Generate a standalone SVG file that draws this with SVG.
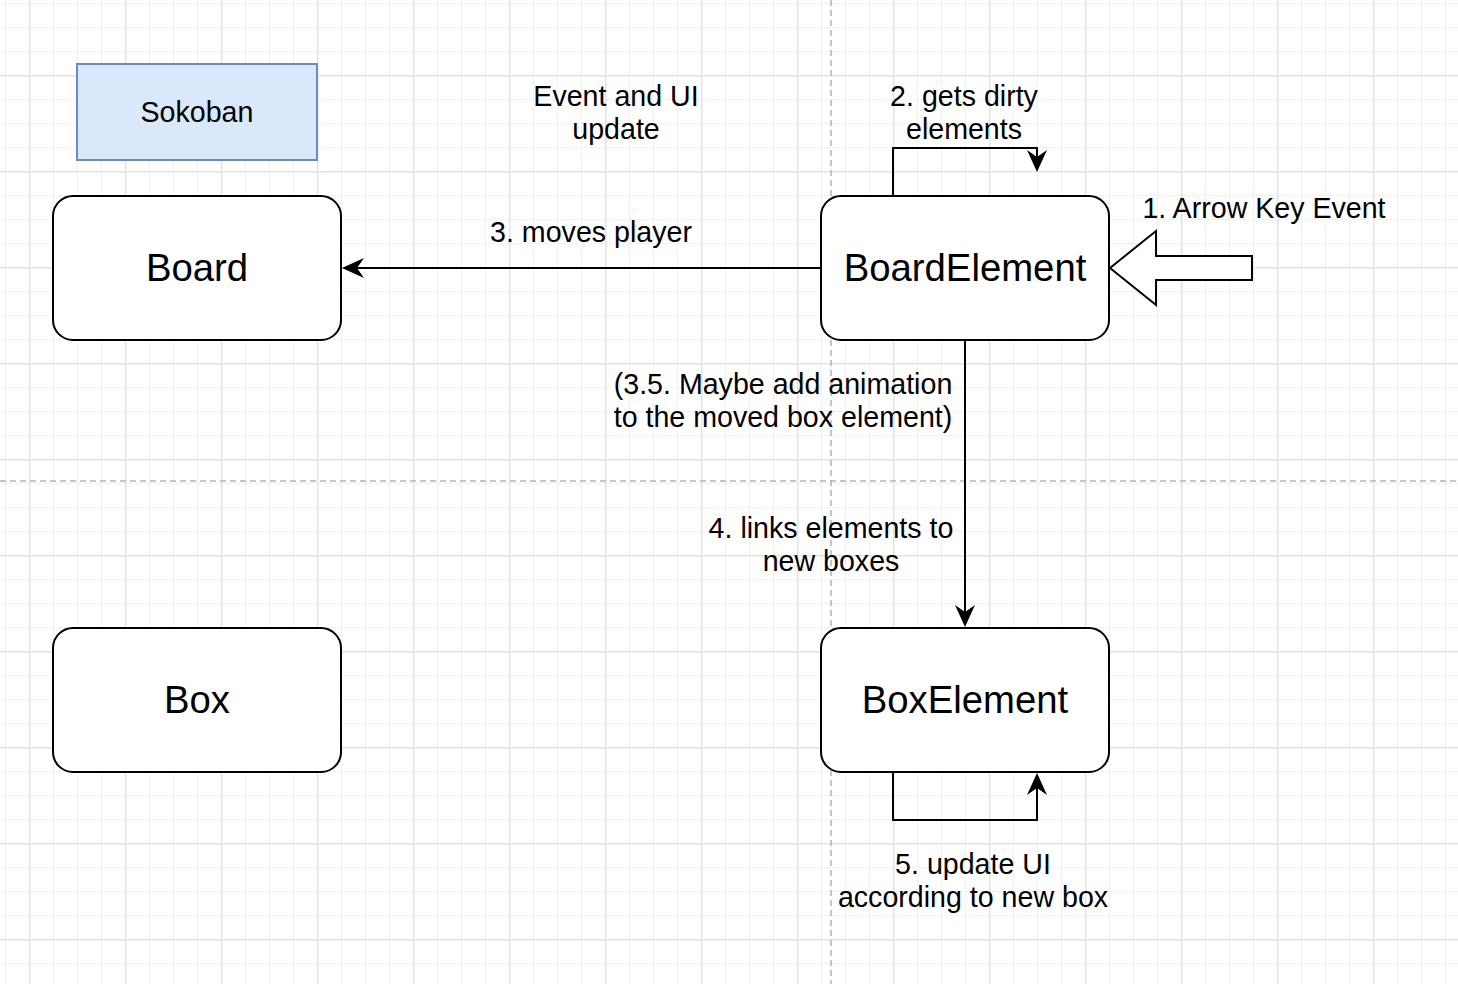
<svg xmlns="http://www.w3.org/2000/svg" width="1458" height="984" viewBox="0 0 1458 984">
  <style>
    text { font-family: "Liberation Sans", Arial, Helvetica, sans-serif; fill: #000; text-anchor: middle; }
    .lbl { font-size: 28.6px; }
    .big { font-size: 38.3px; }
    .node { fill: #fff; stroke: #000; stroke-width: 2; }
    .edge { fill: none; stroke: #000; stroke-width: 2; }
    .sep { stroke: #b3b3b3; stroke-width: 1.5; stroke-dasharray: 6 4; fill: none; }
  </style>
  <defs>
    <pattern id="grid" patternUnits="userSpaceOnUse" x="29" y="75" width="96" height="96">
      <rect x="0" y="0" width="96" height="96" fill="#fff"/>
      <g fill="#f2f2f2">
        <rect x="24" y="0" width="1" height="96"/>
        <rect x="48" y="0" width="1" height="96"/>
        <rect x="72" y="0" width="1" height="96"/>
        <rect x="0" y="24" width="96" height="1"/>
        <rect x="0" y="48" width="96" height="1"/>
        <rect x="0" y="72" width="96" height="1"/>
      </g>
      <g fill="#e3e3e3">
        <rect x="0" y="0" width="1.5" height="96"/>
        <rect x="0" y="0" width="96" height="1.5"/>
      </g>
    </pattern>
    <marker id="arr" markerUnits="userSpaceOnUse" markerWidth="22" markerHeight="20" viewBox="0 0 22 20" refX="7" refY="10" orient="auto">
      <path d="M0,0 L22,10 L0,20 L7,10 z" fill="#000"/>
    </marker>
  </defs>

  <rect x="0" y="0" width="1458" height="984" fill="url(#grid)"/>
  <line class="sep" x1="831" y1="0" x2="831" y2="984"/>
  <line class="sep" x1="0" y1="481" x2="1458" y2="481"/>

  <g id="sokoban">
    <rect x="77" y="64" width="240" height="96" fill="#dae8fc" stroke="#6c8ebf" stroke-width="2"/>
    <text class="lbl" x="197" y="122">Sokoban</text>
  </g>

  <g id="title-event">
    <text class="lbl" x="616" y="106">Event and UI</text>
    <text class="lbl" x="616" y="139">update</text>
  </g>

  <g id="board">
    <rect class="node" x="53" y="196" width="288" height="144" rx="20" ry="20"/>
    <text class="big" x="197" y="281">Board</text>
  </g>

  <g id="boardelement">
    <rect class="node" x="821" y="196" width="288" height="144" rx="20" ry="20"/>
    <text class="big" x="965" y="281">BoardElement</text>
  </g>

  <g id="box">
    <rect class="node" x="53" y="628" width="288" height="144" rx="20" ry="20"/>
    <text class="big" x="197" y="713">Box</text>
  </g>

  <g id="boxelement">
    <rect class="node" x="821" y="628" width="288" height="144" rx="20" ry="20"/>
    <text class="big" x="965" y="713">BoxElement</text>
  </g>

  <g id="key-event">
    <polygon points="1110,268 1156,231 1156,256 1252,256 1252,280 1156,280 1156,305" fill="#fff" stroke="#000" stroke-width="2" stroke-linejoin="miter"/>
    <text class="lbl" x="1264" y="218">1. Arrow Key Event</text>
  </g>

  <g id="connectors">
    <path class="edge" d="M893,196 V148 H1037 V157" marker-end="url(#arr)"/>
    <path class="edge" d="M821,268 H357" marker-end="url(#arr)"/>
    <path class="edge" d="M965,340 V612" marker-end="url(#arr)"/>
    <path class="edge" d="M893,772 V820 H1037 V788" marker-end="url(#arr)"/>
  </g>

  <g id="edge-labels">
    <text class="lbl" x="964" y="106">2. gets dirty</text>
    <text class="lbl" x="964" y="139">elements</text>
    <text class="lbl" x="591" y="242">3. moves player</text>
    <text class="lbl" x="783" y="394">(3.5. Maybe add animation</text>
    <text class="lbl" x="783" y="427">to the moved box element)</text>
    <text class="lbl" x="831" y="538">4. links elements to</text>
    <text class="lbl" x="831" y="571">new boxes</text>
    <text class="lbl" x="973" y="874">5. update UI</text>
    <text class="lbl" x="973" y="907">according to new box</text>
  </g>
</svg>
